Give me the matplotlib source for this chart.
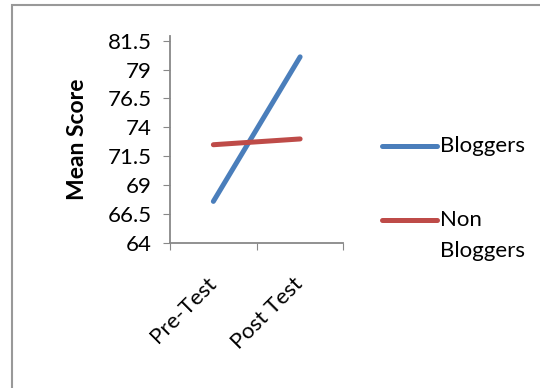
import matplotlib
matplotlib.use("Agg")
import matplotlib.pyplot as plt
from matplotlib.lines import Line2D
from matplotlib.patches import Rectangle

plt.rcParams['font.family'] = ['Lato', 'DejaVu Sans']

tests = ['Pre-Test', 'Post Test']
bloggers = [67.6, 80.1]
non_bloggers = [72.5, 73.0]
y_ticks = [64, 66.5, 69, 71.5, 74, 76.5, 79, 81.5]

blue = '#4A7EBB'
red = '#BE4B48'
grey = '#888888'
fs = 16

fig = plt.figure(figsize=(5.4, 3.88), dpi=100)
ax = fig.add_axes([0.3148, 0.3737, 0.3213, 0.5343])

x = list(range(len(tests)))
ax.plot(x, bloggers, color=blue, lw=3.6, solid_capstyle='round')
ax.plot(x, non_bloggers, color=red, lw=3.6, solid_capstyle='round')

ax.set_xlim(-0.5, len(tests) - 0.5)
ax.set_ylim(64, 81.93)
ax.set_yticks(y_ticks)
ax.set_yticklabels([f'{v:g}' for v in y_ticks])

# category boundaries carry the tick marks, labels sit at the centres
ax.set_xticks([i - 0.5 for i in range(len(tests) + 1)])
ax.set_xticklabels([])
ax.set_xticks(x, minor=True)
ax.set_xticklabels(tests, minor=True, rotation=45, ha='right', va='center',
                   rotation_mode='anchor', fontsize=fs)
ax.tick_params(axis='x', which='minor', length=0, pad=27)
ax.tick_params(axis='x', which='major', length=5, color=grey, direction='out')
ax.tick_params(axis='y', length=5, color=grey, labelsize=fs, pad=8)

for side in ['top', 'right']:
    ax.spines[side].set_visible(False)
for side in ['left', 'bottom']:
    ax.spines[side].set_color(grey)
    ax.spines[side].set_linewidth(1.3)

ax.set_ylabel('Mean Score', fontsize=fs + 0.5, fontweight='bold', labelpad=14)

# legend drawn to the right of the plot
fig.add_artist(Line2D([382 / 540, 437 / 540], [1 - 146 / 388, 1 - 146 / 388],
                      color=blue, lw=3.6, solid_capstyle='round'))
fig.text(440 / 540, 1 - 146 / 388, 'Bloggers', fontsize=fs, va='center')
fig.add_artist(Line2D([382 / 540, 437 / 540], [1 - 220 / 388, 1 - 220 / 388],
                      color=red, lw=3.6, solid_capstyle='round'))
fig.text(440 / 540, 1 - 220 / 388, 'Non', fontsize=fs, va='center')
fig.text(440 / 540, 1 - 251 / 388, 'Bloggers', fontsize=fs, va='center')

# chart frame
fig.add_artist(Rectangle((12 / 540, -0.1), 1.2, 1 - 5.5 / 388 + 0.1,
                         transform=fig.transFigure, fill=False,
                         edgecolor='#999999', lw=1.5))

fig.savefig('out.png', dpi=100)
